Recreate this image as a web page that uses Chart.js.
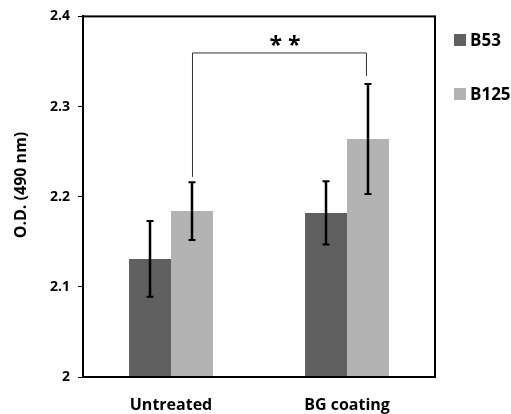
<!DOCTYPE html>
<html>
<head>
<meta charset="utf-8">
<script src="https://cdn.jsdelivr.net/npm/chart.js@4.4.1/dist/chart.umd.min.js"></script>
<style>
  html, body { margin: 0; padding: 0; background: #fff; }
  #wrap { width: 511px; height: 414px; }
</style>
</head>
<body>
<div id="wrap"><canvas id="chart" width="511" height="414"></canvas></div>
<script>
const categories = ["Untreated", "BG coating"];
const seriesNames = ["B53", "B125"];
const valuesB53 = [2.131, 2.182];
const valuesB125 = [2.184, 2.264];
const errB53 = [0.042, 0.035];
const errB125 = [0.032, 0.061];
const seriesColors = ["#606060", "#b3b3b3"];
const yTitle = "O.D. (490 nm)";
// significance bracket between Untreated/B125 and BG coating/B125
const bracketTop = 2.36;
const bracketEnds = [2.222, 2.334];
const bracketLabel = "* *";

const fontFam = "'Open Sans', sans-serif";

// error bars, frame, bracket, axis title and legend
const extras = {
  id: "extras",
  afterDatasetsDraw(chart) {
    const ctx = chart.ctx;
    const y = chart.scales.y;
    const a = chart.chartArea;
    const errs = [errB53, errB125];
    ctx.save();
    ctx.strokeStyle = "#000";
    chart.data.datasets.forEach((ds, di) => {
      const meta = chart.getDatasetMeta(di);
      meta.data.forEach((bar, i) => {
        const v = ds.data[i];
        const yt = y.getPixelForValue(v + errs[di][i]);
        const yb = y.getPixelForValue(v - errs[di][i]);
        ctx.lineWidth = 2.5;
        ctx.beginPath();
        ctx.moveTo(bar.x, yt);
        ctx.lineTo(bar.x, yb);
        ctx.stroke();
        ctx.lineWidth = 2;
        ctx.beginPath();
        ctx.moveTo(bar.x - 3.5, yt);
        ctx.lineTo(bar.x + 3.5, yt);
        ctx.moveTo(bar.x - 3.5, yb);
        ctx.lineTo(bar.x + 3.5, yb);
        ctx.stroke();
      });
    });

    // bracket
    const m = chart.getDatasetMeta(1);
    const x1 = m.data[0].x, x2 = m.data[1].x;
    const yTop = y.getPixelForValue(bracketTop);
    ctx.strokeStyle = "#333";
    ctx.lineWidth = 1;
    ctx.beginPath();
    ctx.moveTo(x1 + 0.5, y.getPixelForValue(bracketEnds[0]));
    ctx.lineTo(x1 + 0.5, yTop + 0.5);
    ctx.lineTo(x2 - 1.5, yTop + 0.5);
    ctx.lineTo(x2 - 1.5, y.getPixelForValue(bracketEnds[1]));
    ctx.stroke();
    ctx.fillStyle = "#000";
    ctx.font = "bold 23px " + fontFam;
    ctx.textAlign = "center";
    ctx.textBaseline = "alphabetic";
    ctx.fillText(bracketLabel, (x1 + x2) / 2 + 5, yTop + 1);

    // frame
    ctx.strokeStyle = "#000";
    ctx.lineWidth = 2;
    ctx.strokeRect(a.left, a.top, a.right - a.left, a.bottom - a.top);

    // y axis title (sits a little above the plot middle)
    ctx.save();
    ctx.translate(21, 185);
    ctx.rotate(-Math.PI / 2);
    ctx.font = "bold 16px " + fontFam;
    ctx.textAlign = "center";
    ctx.textBaseline = "middle";
    ctx.fillText(yTitle, 0, 0);
    ctx.restore();

    // legend
    ctx.font = "bold 17px " + fontFam;
    ctx.textAlign = "left";
    ctx.textBaseline = "middle";
    chart.data.datasets.forEach((ds, di) => {
      const ly = 40 + di * 54;
      ctx.fillStyle = ds.backgroundColor;
      ctx.fillRect(a.right + 19, ly - 6, 12, 12);
      ctx.fillStyle = "#000";
      ctx.fillText(ds.label, a.right + 35, ly + 1);
    });
    ctx.restore();
  }
};

new Chart(document.getElementById("chart"), {
  type: "bar",
  data: {
    labels: categories,
    datasets: [
      { label: seriesNames[0], data: valuesB53, backgroundColor: seriesColors[0] },
      { label: seriesNames[1], data: valuesB125, backgroundColor: seriesColors[1] }
    ]
  },
  options: {
    responsive: false,
    animation: false,
    layout: { padding: { top: 15, right: 76, left: 0, bottom: 0 } },
    datasets: { bar: { categoryPercentage: 0.477, barPercentage: 1 } },
    plugins: { legend: { display: false }, tooltip: { enabled: false } },
    scales: {
      x: {
        grid: { display: false },
        border: { display: false },
        ticks: { color: "#000", font: { family: fontFam, size: 16, weight: "bold" }, padding: 11 },
        afterFit(s) { s.height = 37; }
      },
      y: {
        min: 2, max: 2.4,
        grid: { drawOnChartArea: false, tickLength: 5, color: "#000", lineWidth: 1 },
        border: { color: "#000", width: 2 },
        ticks: {
          stepSize: 0.1, color: "#000", padding: 8,
          font: { family: fontFam, size: 14, weight: "bold" },
          callback: (v) => (Math.abs(v - 2) < 1e-9 ? "2" : v.toFixed(1))
        },
        afterFit(s) { s.width = 83; }
      }
    }
  },
  plugins: [extras]
});
</script>
</body>
</html>
